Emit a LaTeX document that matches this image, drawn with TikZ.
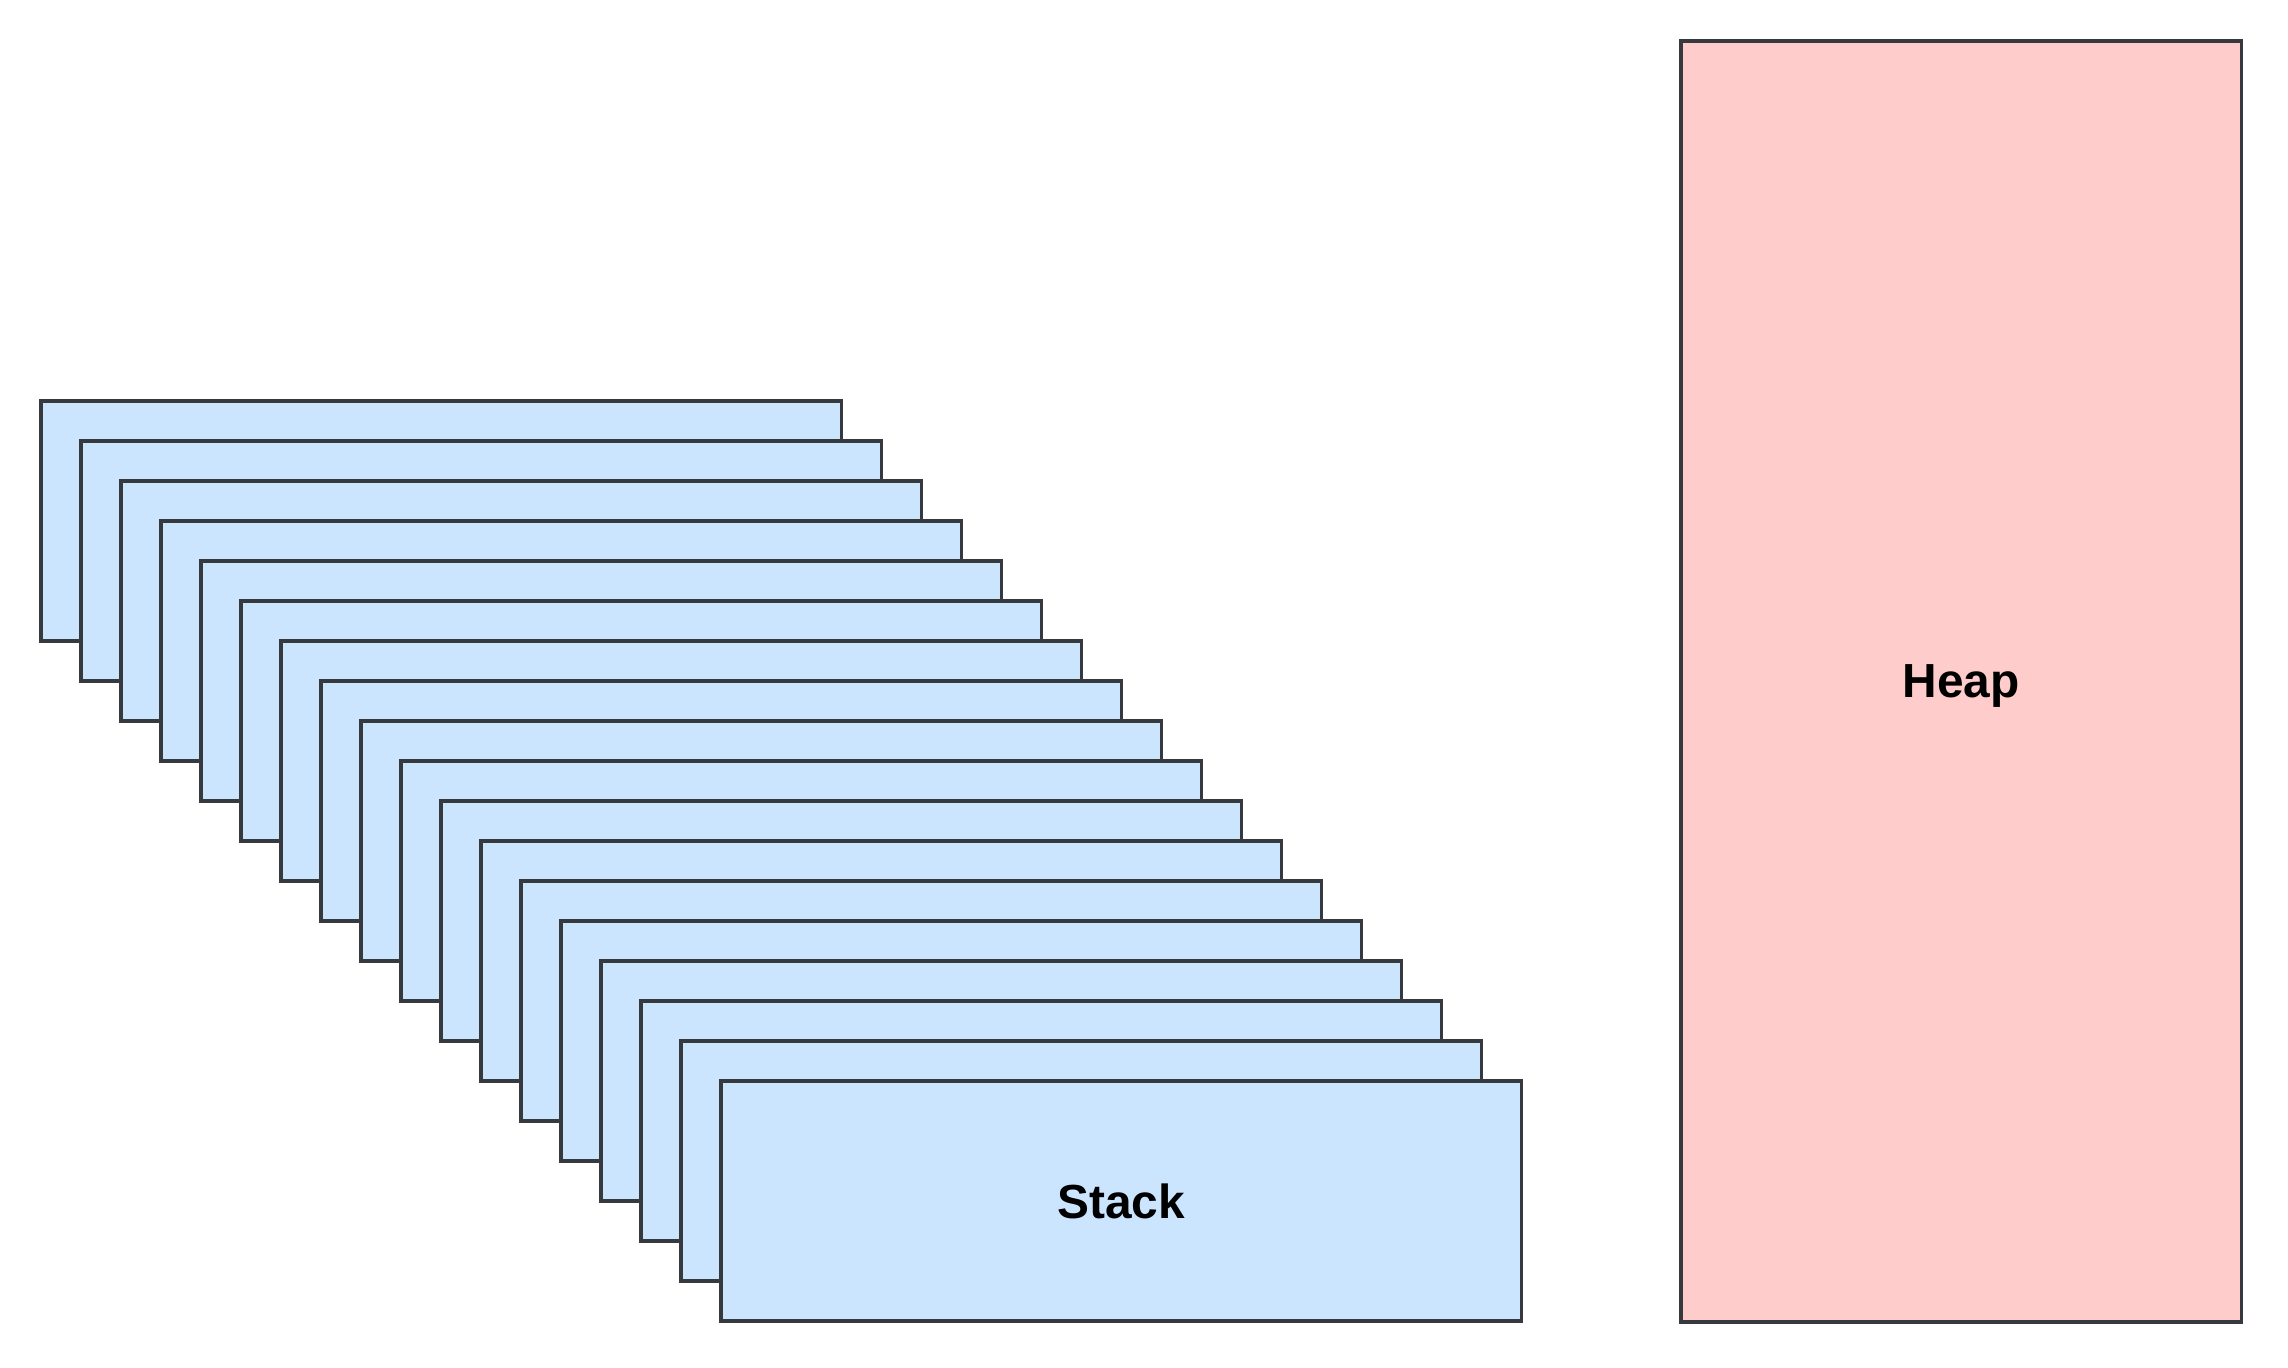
\documentclass[tikz,border=0pt]{standalone}
\usepackage{fontspec}
\setmainfont{Liberation Sans}
\usepackage{tikz}
\usetikzlibrary{positioning}
\definecolor{framegray}{RGB}{54,57,61}
\definecolor{stackblue}{RGB}{204,229,255}
\definecolor{heapred}{RGB}{255,204,204}
\tikzset{frame/.style={draw=framegray,line width=1pt,fill=stackblue,minimum width=8cm,minimum height=2.4cm,inner sep=0pt,outer sep=0pt,text depth=0pt,font=\fontsize{13.6}{16}\selectfont\bfseries}}
\tikzset{heapbox/.style={draw=framegray,line width=1pt,fill=heapred,minimum width=5.6cm,minimum height=12.8cm,inner sep=0pt,outer sep=0pt,text depth=0pt,font=\fontsize{13.6}{16}\selectfont\bfseries}}

\begin{document}
\begin{tikzpicture}[x=0.01cm,y=-0.01cm]
        \useasboundingbox (0,0) rectangle (2288,1368);
        \foreach \i in {0,...,16} {
          \node[frame,anchor=north west] (frame\i) at ({41+40*\i},{401+40*\i}) {};
        }
        \node[frame,anchor=north west] (stack) at (721,1081) {Stack};
        \node[heapbox,anchor=north west] (heap) at (1681,41) {Heap};
      \end{tikzpicture}
\end{document}
